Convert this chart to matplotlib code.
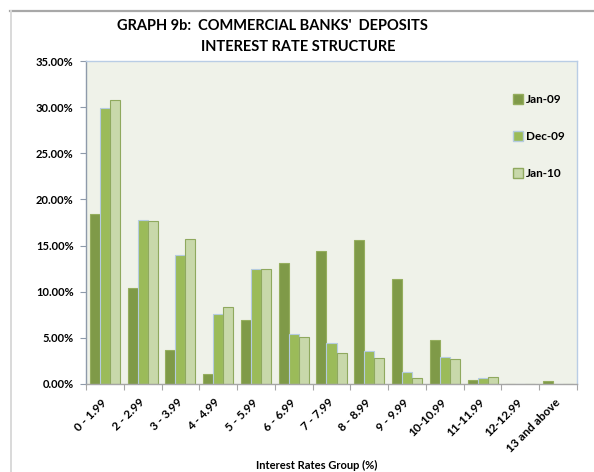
import matplotlib.pyplot as plt
from matplotlib.lines import Line2D
from matplotlib.transforms import ScaledTranslation
import numpy as np

plt.rcParams['font.family'] = ['Lato', 'DejaVu Sans']
plt.rcParams['font.weight'] = 'bold'

groups = ['0 - 1.99', '2 - 2.99', '3 - 3.99', '4 - 4.99', '5 - 5.99', '6 - 6.99',
          '7 - 7.99', '8 - 8.99', '9 - 9.99', '10-10.99', '11-11.99', '12-12.99',
          '13 and above']
jan09 = [18.37, 10.44, 3.67, 1.04, 6.91, 13.07, 14.37, 15.63, 11.34, 4.72, 0.43, 0.0, 0.29]
dec09 = [29.89, 17.79, 14.00, 7.63, 12.50, 5.40, 4.39, 3.60, 1.30, 2.95, 0.68, 0.0, 0.0]
jan10 = [30.75, 17.64, 15.74, 8.39, 12.50, 5.11, 3.31, 2.81, 0.61, 2.74, 0.76, 0.0, 0.0]
series = ['Jan-09', 'Dec-09', 'Jan-10']

faces = ['#7f9a48', '#9bbb59', '#c8d8aa']
edges = ['#95ae5e', '#b4cbe0', '#8fa95e']

fig = plt.figure(figsize=(5.94, 4.72), dpi=100)
ax = fig.add_axes([86/594, 1 - 384/472, 491/594, 323/472])
ax.set_facecolor('#eff2e9')

x = np.arange(len(groups))
w = 0.265
for i, vals in enumerate([jan09, dec09, jan10]):
    ax.bar(x + (i - 1) * w, vals, w, color=faces[i], edgecolor=edges[i],
           linewidth=0.8, label=series[i], zorder=2)

ax.set_xlim(-0.5, len(groups) - 0.5)
ax.set_ylim(0, 35)
ax.set_yticks(np.arange(0, 36, 5))
ax.set_yticklabels(['%.2f%%' % v for v in np.arange(0, 36, 5)], fontsize=8, fontweight='bold')
ax.set_xticks(np.arange(-0.5, len(groups), 1))
ax.set_xticklabels([])
ax.set_xticks(x, minor=True)
ax.set_xticklabels(groups, minor=True, rotation=45, ha='right', va='center',
                   rotation_mode='anchor', fontsize=8.5, fontweight='bold')
shift = ScaledTranslation(-4/100, 0, fig.dpi_scale_trans)
for lbl in ax.get_xticklabels(minor=True):
    lbl.set_transform(lbl.get_transform() + shift)
ax.tick_params(axis='x', which='minor', length=0, pad=12)
ax.tick_params(axis='x', which='major', length=4, color='#a6a6a6')
ax.tick_params(axis='y', length=4, color='#8e9aaa', pad=5)

ax.spines['left'].set_color('#8e9aaa')
ax.spines['bottom'].set_color('#a6a6a6')
ax.spines['top'].set_color('#b9cde5')
ax.spines['right'].set_color('#b9cde5')
for s in ax.spines.values():
    s.set_linewidth(1.0)

handles = [Line2D([], [], marker='s', linestyle='none', markersize=7,
                  markerfacecolor=faces[i], markeredgecolor=edges[i]) for i in range(3)]
ax.legend(handles, series, loc='upper left', bbox_to_anchor=(0.858, 0.915),
          frameon=False, labelspacing=2.2, handletextpad=0.3,
          handlelength=0.8, borderpad=0, prop={'weight': 'bold', 'size': 8.5})

title_font = ['Liberation Sans Narrow', 'Lato', 'DejaVu Sans']
fig.text(272/594, 1 - 26/472, "GRAPH 9b:  COMMERCIAL BANKS'  DEPOSITS",
         ha='center', va='center', fontsize=10.5, fontweight='bold', family=title_font)
fig.text(298/594, 1 - 47/472, 'INTEREST RATE STRUCTURE',
         ha='center', va='center', fontsize=10.5, fontweight='bold', family=title_font)
fig.text(317/594, 1 - 465/472, 'Interest Rates Group (%)',
         ha='center', va='center', fontsize=8, fontweight='bold')

# outer chart frame: top and left edges only
fig.add_artist(Line2D([10/594, 1], [1 - 11/472] * 2, color='#a8a8a8', linewidth=1.6))
fig.add_artist(Line2D([11/594] * 2, [0, 1 - 11/472], color='#d9d9d9', linewidth=1.4))

fig.savefig('out.png', dpi=100)
